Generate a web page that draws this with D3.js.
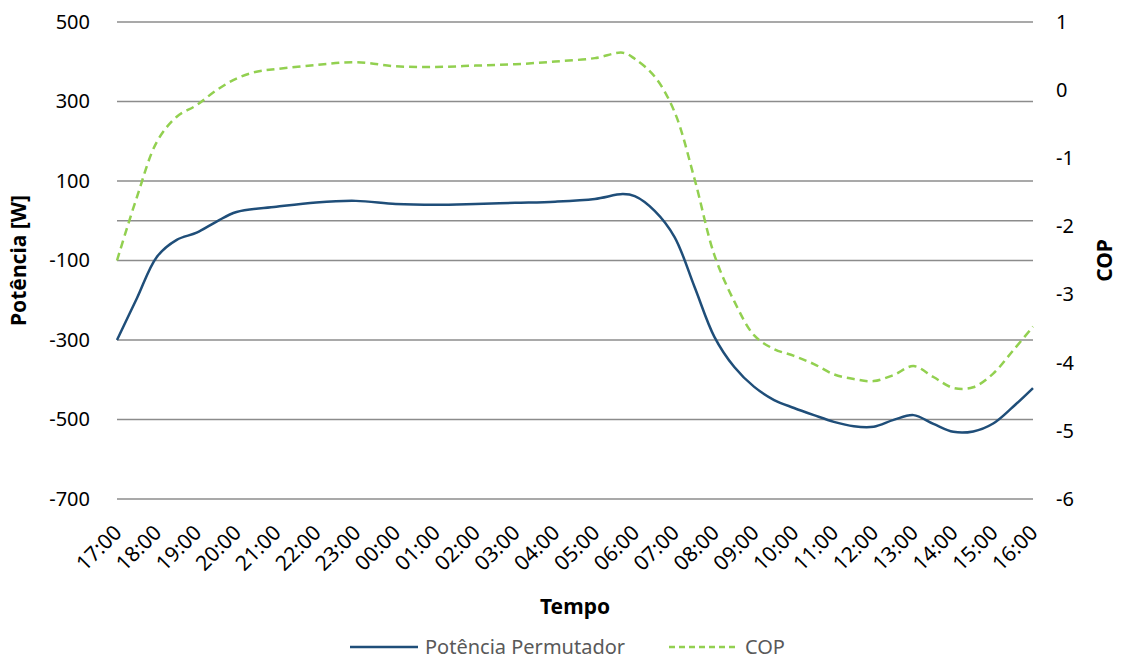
<!DOCTYPE html>
<html>
<head>
<meta charset="utf-8">
<script src="https://cdn.jsdelivr.net/npm/d3@7"></script>
<style>
  body { margin: 0; background: #fff; }
  text { font-family: "Noto Sans", "Open Sans", sans-serif; }
</style>
</head>
<body>
<svg width="1121" height="659"></svg>
<script>
// hour labels along the x axis (categories)
const hourLabels = ['17:00', '18:00', '19:00', '20:00', '21:00', '22:00', '23:00', '00:00',
  '01:00', '02:00', '03:00', '04:00', '05:00', '06:00', '07:00', '08:00', '09:00', '10:00',
  '11:00', '12:00', '13:00', '14:00', '15:00', '16:00'];

// hours elapsed since 17:00
const powerHours = [0, 0.5, 1, 1.5, 2, 2.5, 3, 4, 5, 6, 7, 8, 9, 10, 11, 12, 12.7, 13, 13.5, 14, 14.5,
  15, 15.5, 16, 16.5, 17, 17.5, 18, 18.5, 19, 19.5, 20, 20.5, 21, 21.5, 22, 22.5, 23];
const powerValues = [-300, -195, -91, -48, -30, -2, 22, 35, 46, 50, 42, 40, 42, 45, 48, 55, 67, 62, 25, -41, -166,
  -292, -368, -418, -451, -471, -489, -506, -517, -518, -501, -489, -511, -531, -530, -510, -468, -421];

const copHours = [0, 0.5, 1, 1.5, 2, 2.5, 3, 3.5, 4, 5, 6, 7, 8, 9, 10, 11, 12, 12.7, 13, 13.5, 14, 14.5,
  15, 15.5, 16, 16.5, 17, 17.5, 18, 18.5, 19, 19.5, 20, 20.5, 21, 21.5, 22, 22.5, 23];
const copValues = [-2.5, -1.57, -0.76, -0.39, -0.22, 0, 0.17, 0.27, 0.31, 0.37, 0.41, 0.35, 0.34, 0.36, 0.38, 0.42,
  0.47, 0.55, 0.46, 0.2, -0.32, -1.3, -2.42, -3.1, -3.6, -3.8, -3.9, -4.02, -4.17, -4.24, -4.27, -4.18,
  -4.05, -4.21, -4.37, -4.36, -4.16, -3.82, -3.47];

const leftTicks = [500, 300, 100, -100, -300, -500, -700];
const rightTicks = [1, 0, -1, -2, -3, -4, -5, -6];

const svg = d3.select('svg');
const plotLeft = 117, plotRight = 1033, plotTop = 22, plotBottom = 499;

const x = d3.scaleLinear().domain([0, 23]).range([plotLeft, plotRight]);
const yL = d3.scaleLinear().domain([-700, 500]).range([plotBottom, plotTop]);
const yR = d3.scaleLinear().domain([-6, 1]).range([plotBottom, plotTop]);

// gridlines (plus zero line of the left axis)
svg.append('g')
  .selectAll('line')
  .data(leftTicks.concat([0]))
  .join('line')
  .attr('x1', plotLeft).attr('x2', plotRight)
  .attr('y1', d => yL(d)).attr('y2', d => yL(d))
  .attr('stroke', '#8c8c8c')
  .attr('stroke-width', 1.3);

// left axis
const gl = svg.append('g')
  .attr('transform', `translate(${plotLeft},0)`)
  .call(d3.axisLeft(yL).tickValues(leftTicks).tickSize(0).tickPadding(27).tickFormat(d => String(d)));
gl.select('.domain').remove();
gl.selectAll('text').attr('font-size', 20).attr('fill', '#000')
  .style('font-family', '"Noto Sans", sans-serif');

// right axis
const gr = svg.append('g')
  .attr('transform', `translate(${plotRight},0)`)
  .call(d3.axisRight(yR).tickValues(rightTicks).tickSize(0).tickPadding(23).tickFormat(d => String(d)));
gr.select('.domain').remove();
gr.selectAll('text').attr('font-size', 20).attr('fill', '#000')
  .style('font-family', '"Noto Sans", sans-serif');

// x labels, rotated
svg.append('g')
  .selectAll('text')
  .data(hourLabels)
  .join('text')
  .attr('transform', (d, i) => `translate(${x(i) + 6},${plotBottom + 35}) rotate(-45)`)
  .attr('text-anchor', 'end')
  .attr('font-size', 21)
  .text(d => d);

// series
const powerLine = d3.line()
  .x((d, i) => x(powerHours[i]))
  .y(d => yL(d))
  .curve(d3.curveCatmullRom.alpha(0.5));

const copLine = d3.line()
  .x((d, i) => x(copHours[i]))
  .y(d => yR(d))
  .curve(d3.curveCatmullRom.alpha(0.5));

svg.append('path')
  .attr('d', copLine(copValues))
  .attr('fill', 'none')
  .attr('stroke', '#92d050')
  .attr('stroke-width', 2.5)
  .attr('stroke-dasharray', '8,5');

svg.append('path')
  .attr('d', powerLine(powerValues))
  .attr('fill', 'none')
  .attr('stroke', '#1f4e79')
  .attr('stroke-width', 2.5);

// axis titles
svg.append('text')
  .attr('transform', `translate(26,${(plotTop + plotBottom) / 2}) rotate(-90)`)
  .attr('text-anchor', 'middle')
  .attr('font-size', 21).attr('font-weight', 'bold')
  .text('Potência [W]');

svg.append('text')
  .attr('transform', `translate(1112,${(plotTop + plotBottom) / 2}) rotate(-90)`)
  .attr('text-anchor', 'middle')
  .attr('font-size', 21).attr('font-weight', 'bold')
  .text('COP');

svg.append('text')
  .attr('x', 575).attr('y', 614)
  .attr('text-anchor', 'middle')
  .attr('font-size', 21).attr('font-weight', 'bold')
  .text('Tempo');

// legend
const legend = svg.append('g').attr('transform', 'translate(0,647)');
legend.append('line')
  .attr('x1', 350).attr('x2', 418).attr('y1', 0).attr('y2', 0)
  .attr('stroke', '#1f4e79').attr('stroke-width', 2.5);
legend.append('text')
  .attr('x', 425).attr('dy', '0.35em')
  .attr('font-size', 20).attr('fill', '#595959')
  .text('Potência Permutador');
legend.append('line')
  .attr('x1', 669).attr('x2', 737).attr('y1', 0).attr('y2', 0)
  .attr('stroke', '#92d050').attr('stroke-width', 2.5)
  .attr('stroke-dasharray', '6,4');
legend.append('text')
  .attr('x', 745).attr('dy', '0.35em')
  .attr('font-size', 20).attr('fill', '#595959')
  .text('COP');
</script>
</body>
</html>
